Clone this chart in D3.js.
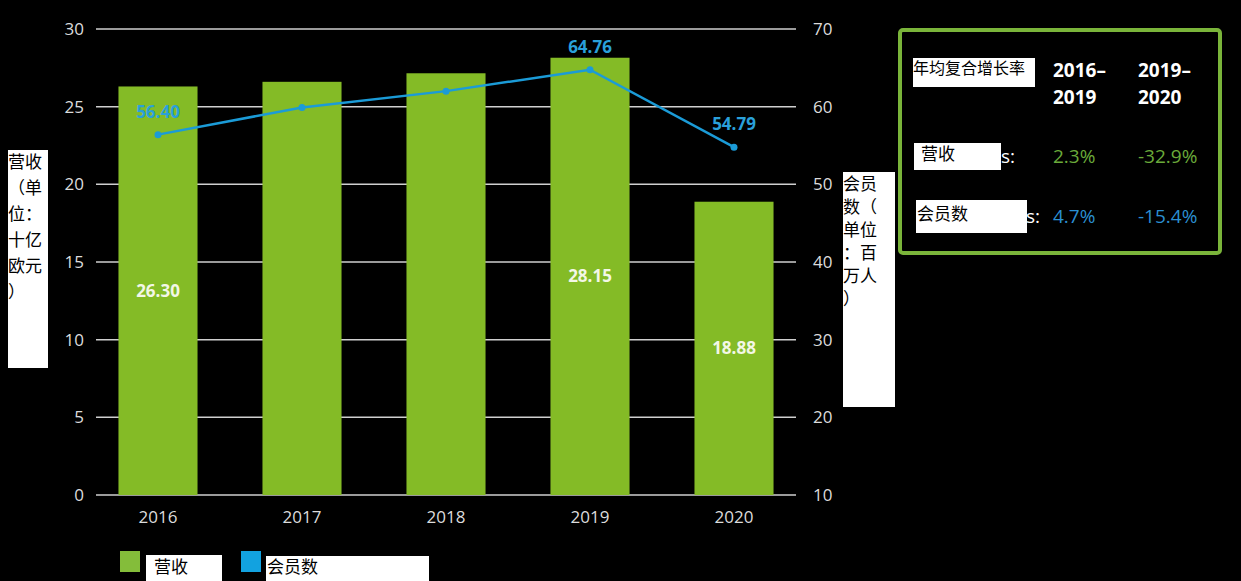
<!DOCTYPE html>
<html>
<head>
<meta charset="utf-8">
<script src="https://cdn.jsdelivr.net/npm/d3@7"></script>
<style>
  html, body { margin: 0; padding: 0; background: #000; }
  svg text { font-family: "Open Sans", "Noto Sans", sans-serif; }
  .cjk { font-family: "Noto Sans CJK SC", sans-serif; }
</style>
</head>
<body>
<div id="chart"></div>
<script>
// data
var years      = ["2016", "2017", "2018", "2019", "2020"];
var revenue    = [26.30, 26.6, 27.15, 28.15, 18.88];      // 十亿欧元
var revLabels  = ["26.30", null, null, "28.15", "18.88"];
var members    = [56.40, 59.9, 62.0, 64.76, 54.79];       // 百万人
var memberLabels = ["56.40", null, null, "64.76", "54.79"];
var leftTicks  = [0, 5, 10, 15, 20, 25, 30];
var rightTicks = [10, 20, 30, 40, 50, 60, 70];
var cagrHeads  = [["2016–", "2019"], ["2019–", "2020"]];
var cagrRevenue = ["2.3%", "-32.9%"];
var cagrMembers = ["4.7%", "-15.4%"];

var width = 1241, height = 581
  , green = "#84bb26", blue = "#1b9bd7"
  , svg = d3.select("#chart").append("svg").attr("width", width).attr("height", height)
            .style("background", "#000");

// scales
var x = d3.scaleBand().domain(years).range([96, 796]).paddingInner(0.451).paddingOuter(0.156)
  , yL = d3.scaleLinear().domain([0, 30]).range([495, 29])
  , yR = d3.scaleLinear().domain([10, 70]).range([495, 29]);

// gridlines
svg.append("g").selectAll("line").data(leftTicks).join("line")
   .attr("x1", 96).attr("x2", 796)
   .attr("y1", d => yL(d)).attr("y2", d => yL(d))
   .attr("stroke", "#cfcfcf").attr("stroke-width", 1.5);

// left axis
var axL = svg.append("g").attr("transform", "translate(96,0)")
   .call(d3.axisLeft(yL).tickValues(leftTicks).tickSize(0).tickPadding(12));
axL.select(".domain").remove();
axL.selectAll("text").attr("fill", "#dcdcdc").style("font-size", "17px");

// right axis
var axR = svg.append("g").attr("transform", "translate(796,0)")
   .call(d3.axisRight(yR).tickValues(rightTicks).tickSize(0).tickPadding(17));
axR.select(".domain").remove();
axR.selectAll("text").attr("fill", "#dcdcdc").style("font-size", "17px");

// bottom axis
var axB = svg.append("g").attr("transform", "translate(0,495)")
   .call(d3.axisBottom(x).tickSize(0).tickPadding(16));
axB.select(".domain").remove();
axB.selectAll("text").attr("fill", "#dcdcdc").style("font-size", "17px");

// bars
svg.append("g").selectAll("rect").data(revenue).join("rect")
   .attr("x", (d, i) => x(years[i])).attr("width", x.bandwidth())
   .attr("y", d => yL(d)).attr("height", d => yL(0) - yL(d))
   .attr("fill", green);

svg.append("g").selectAll("text").data(revenue).join("text")
   .attr("x", (d, i) => x(years[i]) + x.bandwidth() / 2)
   .attr("y", d => (yL(d) + yL(0)) / 2)
   .attr("dy", "0.35em").attr("text-anchor", "middle")
   .attr("fill", "#f3f7e6").style("font-size", "17px").style("font-weight", "bold")
   .text((d, i) => revLabels[i] || "");

// member line
var cx = i => x(years[i]) + x.bandwidth() / 2;
svg.append("path").datum(members)
   .attr("d", d3.line().x((d, i) => cx(i)).y(d => yR(d)))
   .attr("fill", "none").attr("stroke", blue).attr("stroke-width", 2.5);
svg.append("g").selectAll("circle").data(members).join("circle")
   .attr("cx", (d, i) => cx(i)).attr("cy", d => yR(d)).attr("r", 3.5).attr("fill", blue);
svg.append("g").selectAll("text").data(members).join("text")
   .attr("x", (d, i) => cx(i)).attr("y", d => yR(d) - 17)
   .attr("text-anchor", "middle").attr("fill", "#2aa0da")
   .style("font-size", "17px").style("font-weight", "bold")
   .text((d, i) => memberLabels[i] || "");

// white label box helper
function box(x0, y0, w, h, lines, lh, fs, tx, ty) {
  svg.append("rect").attr("x", x0).attr("y", y0).attr("width", w).attr("height", h).attr("fill", "#fff");
  svg.append("g").selectAll("text").data(lines).join("text")
     .attr("class", "cjk")
     .attr("x", x0 + (tx || 0)).attr("y", (d, i) => y0 + (ty || fs) + i * lh)
     .attr("fill", "#000").style("font-size", fs + "px")
     .text(d => d);
}

// axis titles
box(8, 150, 40, 218, ["营收", "（单", "位：", "十亿", "欧元", "）"], 26, 17, 0, 18);
box(843, 172, 52, 235, ["会员", "数（", "单位", "：百", "万人", "）"], 23, 17, 0, 18);

// CAGR panel
svg.append("rect").attr("x", 900).attr("y", 30).attr("width", 320).attr("height", 223)
   .attr("rx", 3).attr("fill", "#000").attr("stroke", "#7ab43a").attr("stroke-width", 4);
box(913, 58, 122, 29, ["年均复合增长率"], 0, 16, 0, 16);
cagrHeads.forEach(function (h, j) {
  svg.append("g").selectAll("text").data(h).join("text")
     .attr("x", 1053 + j * 85).attr("y", (d, i) => 77 + i * 27)
     .attr("fill", "#fff").style("font-size", "19px").style("font-weight", "bold")
     .text(d => d);
});
svg.append("text").attr("x", 1001).attr("y", 163).attr("fill", "#fff").style("font-size", "19px").text("s:");
box(914, 143, 87, 27, ["营收"], 0, 17, 7, 17);
svg.append("text").attr("x", 1026).attr("y", 223).attr("fill", "#fff").style("font-size", "19px").text("s:");
box(916, 200, 111, 33, ["会员数"], 0, 17, 1, 20);
cagrRevenue.forEach(function (v, j) {
  svg.append("text").attr("x", 1053 + j * 85).attr("y", 163)
     .attr("fill", "#6aaa3a").style("font-size", "19px").text(v);
});
cagrMembers.forEach(function (v, j) {
  svg.append("text").attr("x", 1053 + j * 85).attr("y", 223)
     .attr("fill", "#2b8fd2").style("font-size", "19px").text(v);
});

// legend
svg.append("rect").attr("x", 120).attr("y", 551).attr("width", 20).attr("height", 21).attr("fill", "#84bd3a");
box(146, 555, 76, 26, ["营收"], 0, 17, 8, 18);
svg.append("rect").attr("x", 241).attr("y", 551).attr("width", 20).attr("height", 21).attr("fill", "#12a2e0");
box(266, 556, 163, 25, ["会员数"], 0, 17, 1, 17);
</script>
</body>
</html>
